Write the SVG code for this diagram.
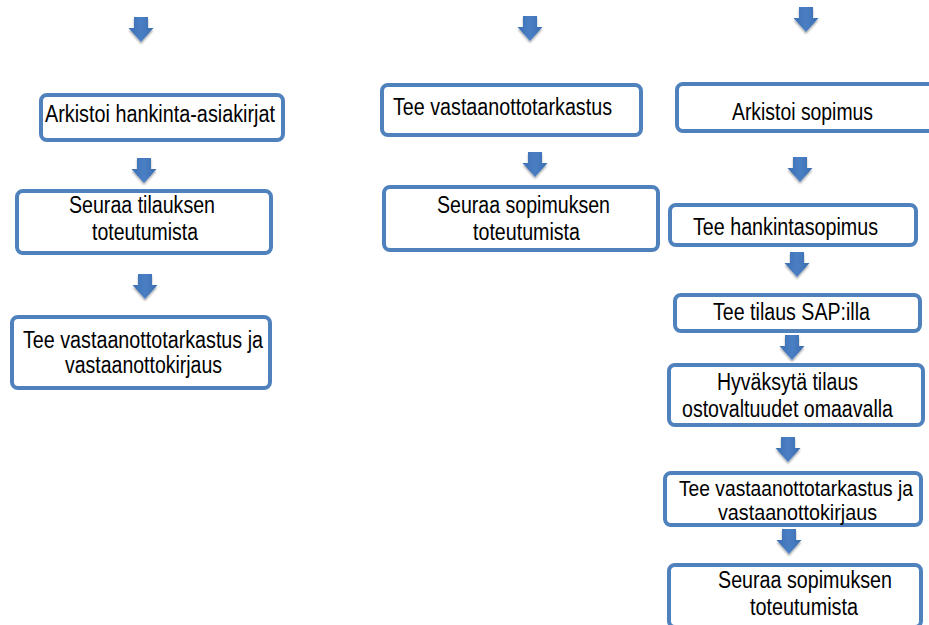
<svg xmlns="http://www.w3.org/2000/svg" width="929" height="625" viewBox="0 0 929 625">
<style>
.box{fill:#ffffff;stroke:#4f81bd;stroke-width:4;}
.t{font-family:"Liberation Sans",Arial,sans-serif;font-size:23px;fill:#000000;}
.s{font-size:22px;}
.arr{fill:url(#ag);filter:url(#sh);}
</style>
<defs>
<linearGradient id="ag" x1="0" y1="0" x2="1" y2="0">
<stop offset="0" stop-color="#3c6fb4"/>
<stop offset="0.5" stop-color="#4a7fc4"/>
<stop offset="1" stop-color="#3a6cb0"/>
</linearGradient>
<filter id="sh" x="-30%" y="-30%" width="160%" height="170%">
<feGaussianBlur in="SourceAlpha" stdDeviation="1.2"/>
<feOffset dx="0" dy="1.5" result="b"/>
<feComponentTransfer><feFuncA type="linear" slope="0.35"/></feComponentTransfer>
<feMerge><feMergeNode/><feMergeNode in="SourceGraphic"/></feMerge>
</filter>
<path id="dn" d="M-7,0 H7 V11 H12.5 L0,25 L-12.5,11 H-7 Z"/>
</defs>

<g id="connectors">
<use href="#dn" class="arr" x="141" y="17"/>
<use href="#dn" class="arr" x="144" y="158"/>
<use href="#dn" class="arr" x="145" y="274"/>
<use href="#dn" class="arr" x="530" y="16"/>
<use href="#dn" class="arr" x="535" y="152"/>
<use href="#dn" class="arr" x="806" y="7"/>
<use href="#dn" class="arr" x="800" y="157"/>
<use href="#dn" class="arr" x="797" y="252"/>
<use href="#dn" class="arr" x="792" y="335"/>
<use href="#dn" class="arr" x="788" y="437"/>
<use href="#dn" class="arr" x="789" y="529"/>
</g>

<g id="n-arkistoi-hankinta">
<rect class="box" x="41" y="95" width="242" height="45" rx="6"/>
<text class="t" x="45" y="122" textLength="230" lengthAdjust="spacingAndGlyphs">Arkistoi hankinta-asiakirjat</text>
</g>
<g id="n-seuraa-tilauksen">
<rect class="box" x="17" y="191" width="254" height="62" rx="6"/>
<text class="t" x="69" y="213" textLength="146" lengthAdjust="spacingAndGlyphs">Seuraa tilauksen</text>
<text class="t" x="92" y="240" textLength="106" lengthAdjust="spacingAndGlyphs">toteutumista</text>
</g>
<g id="n-vastaanotto-left">
<rect class="box" x="12" y="317" width="258" height="71" rx="6"/>
<text class="t" x="23" y="348" textLength="240" lengthAdjust="spacingAndGlyphs">Tee vastaanottotarkastus ja</text>
<text class="t" x="65" y="373" textLength="157" lengthAdjust="spacingAndGlyphs">vastaanottokirjaus</text>
</g>

<g id="n-vastaanottotarkastus-mid">
<rect class="box" x="382" y="85" width="259" height="50" rx="6"/>
<text class="t" x="393" y="115" textLength="219" lengthAdjust="spacingAndGlyphs">Tee vastaanottotarkastus</text>
</g>
<g id="n-seuraa-sopimuksen-mid">
<rect class="box" x="384" y="187" width="274" height="63" rx="6"/>
<text class="t" x="437" y="213" textLength="173" lengthAdjust="spacingAndGlyphs">Seuraa sopimuksen</text>
<text class="t" x="473" y="240" textLength="107" lengthAdjust="spacingAndGlyphs">toteutumista</text>
</g>

<g id="n-arkistoi-sopimus">
<rect class="box" x="677" y="84" width="262" height="47" rx="6"/>
<text class="t" x="732" y="120" textLength="141" lengthAdjust="spacingAndGlyphs">Arkistoi sopimus</text>
</g>
<g id="n-hankintasopimus">
<rect class="box" x="670" y="205" width="246" height="40" rx="6"/>
<text class="t" x="693" y="235" textLength="185" lengthAdjust="spacingAndGlyphs">Tee hankintasopimus</text>
</g>
<g id="n-tilaus-sap">
<rect class="box" x="675" y="295" width="245" height="36" rx="6"/>
<text class="t" x="713" y="320" textLength="157" lengthAdjust="spacingAndGlyphs">Tee tilaus SAP:illa</text>
</g>
<g id="n-hyvaksyta">
<rect class="box" x="669" y="365" width="254" height="60" rx="6"/>
<text class="t" x="717" y="390" textLength="141" lengthAdjust="spacingAndGlyphs">Hyväksytä tilaus</text>
<text class="t" x="682" y="417" textLength="211" lengthAdjust="spacingAndGlyphs">ostovaltuudet omaavalla</text>
</g>
<g id="n-vastaanotto-right">
<rect class="box" x="665" y="473" width="256" height="52" rx="6"/>
<text class="t s" x="679" y="496" textLength="234" lengthAdjust="spacingAndGlyphs">Tee vastaanottotarkastus ja</text>
<text class="t s" x="718" y="520" textLength="159" lengthAdjust="spacingAndGlyphs">vastaanottokirjaus</text>
</g>
<g id="n-seuraa-sopimuksen-right">
<rect class="box" x="669" y="565" width="252" height="62" rx="6"/>
<text class="t" x="718" y="588" textLength="174" lengthAdjust="spacingAndGlyphs">Seuraa sopimuksen</text>
<text class="t" x="750" y="615" textLength="108" lengthAdjust="spacingAndGlyphs">toteutumista</text>
</g>
</svg>
